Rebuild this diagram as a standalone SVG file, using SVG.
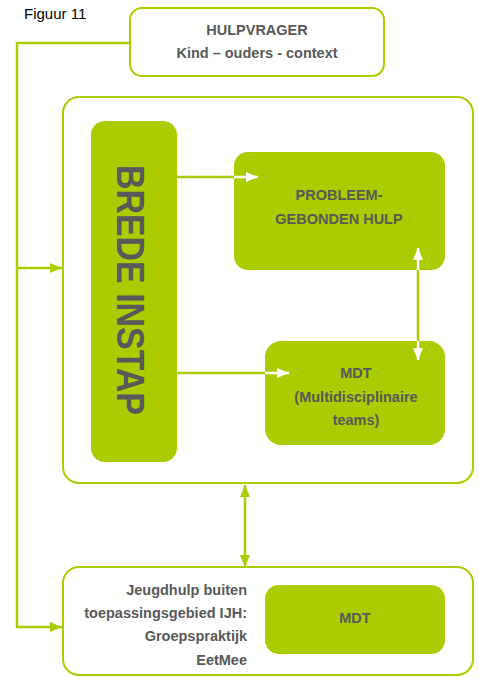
<svg xmlns="http://www.w3.org/2000/svg" width="479" height="677" viewBox="0 0 479 677">
<defs>
<style>
.box{fill:#fff;stroke:#AACC00;stroke-width:2}
.fill{fill:#AACC00;stroke:none}
.t{font-family:"Liberation Sans",Arial,sans-serif;font-weight:bold;fill:#595959;font-size:14.5px}
.big{font-size:38px}
.g{fill:none;stroke:#AACC00;stroke-width:2.5}
.w{fill:none;stroke:#fff;stroke-width:2.5}
</style>
<marker id="ag" markerUnits="userSpaceOnUse" markerWidth="12" markerHeight="10" refX="12" refY="5" orient="auto-start-reverse"><path d="M0,0 L12,5 L0,10 Z" fill="#AACC00"/></marker>
<marker id="aw" markerUnits="userSpaceOnUse" markerWidth="12" markerHeight="10" refX="12" refY="5" orient="auto-start-reverse"><path d="M0,0 L12,5 L0,10 Z" fill="#fff"/></marker>
</defs>
<rect width="479" height="677" fill="#fff"/>
<text x="24" y="19" font-family="Liberation Sans,Arial,sans-serif" font-size="15" fill="#000">Figuur 11</text>
<g id="hulpvrager">
<rect class="box" x="130" y="8" width="254" height="68" rx="12"/>
<text class="t" x="257" y="35" text-anchor="middle">HULPVRAGER</text>
<text class="t" x="257" y="58" text-anchor="middle">Kind – ouders - context</text>
</g>
<g id="main">
<rect class="box" x="63" y="97" width="410" height="386" rx="16"/>
</g>
<g id="brede-instap">
<rect class="fill" x="91" y="121" width="86" height="341" rx="14"/>
<text class="t big" transform="translate(117,290) rotate(90)" text-anchor="middle" textLength="250" lengthAdjust="spacingAndGlyphs">BREDE INSTAP</text>
</g>
<g id="probleem">
<rect class="fill" x="234" y="152" width="211" height="118" rx="14"/>
<text class="t" x="339" y="200" text-anchor="middle">PROBLEEM-</text>
<text class="t" x="339" y="224" text-anchor="middle">GEBONDEN HULP</text>
</g>
<g id="mdt">
<rect class="fill" x="265" y="341" width="180" height="104" rx="16"/>
<text class="t" x="356" y="378" text-anchor="middle">MDT</text>
<text class="t" x="356" y="402" text-anchor="middle">(Multidisciplinaire</text>
<text class="t" x="356" y="425" text-anchor="middle">teams)</text>
</g>
<g id="jeugdhulp">
<rect class="box" x="63" y="567" width="410" height="108" rx="16"/>
<text class="t" x="247" y="595" text-anchor="end">Jeugdhulp buiten</text>
<text class="t" x="247" y="618" text-anchor="end">toepassingsgebied IJH:</text>
<text class="t" x="247" y="641" text-anchor="end">Groepspraktijk</text>
<text class="t" x="247" y="665" text-anchor="end">EetMee</text>
</g>
<g id="mdt-bottom">
<rect class="fill" x="265" y="585" width="180" height="69" rx="14"/>
<text class="t" x="355" y="623" text-anchor="middle">MDT</text>
</g>
<g id="connectors">
<path class="g" d="M130,43 H17 V627 H62" marker-end="url(#ag)"/>
<path class="g" d="M17,268 H62" marker-end="url(#ag)"/>
<path class="g" d="M177,177 H235"/>
<path class="w" d="M234,177 H258" marker-end="url(#aw)"/>
<path class="g" d="M177,373 H266"/>
<path class="w" d="M265,373 H289" marker-end="url(#aw)"/>
<path class="g" d="M418,269 V342"/>
<path class="w" d="M418,248 V270" marker-start="url(#aw)"/>
<path class="w" d="M418,341 V360" marker-end="url(#aw)"/>
<path class="g" d="M245,485 V567" marker-start="url(#ag)" marker-end="url(#ag)"/>
</g>
</svg>
